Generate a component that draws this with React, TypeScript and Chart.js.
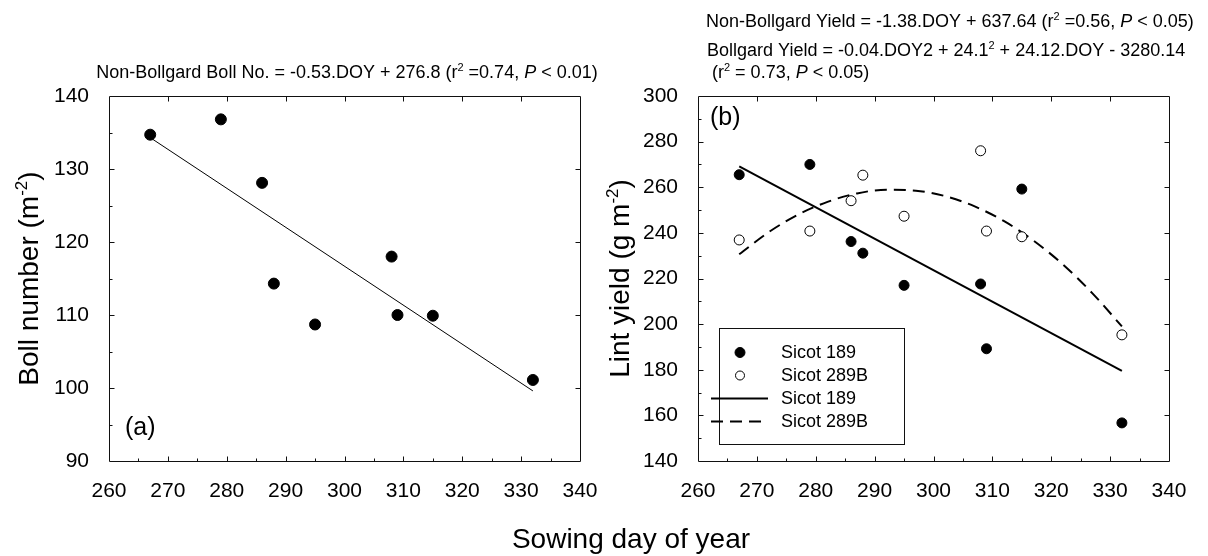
import React, { useEffect, useRef } from "react";
import { Chart, registerables } from "chart.js";

Chart.register(...registerables);

const FONT = '"Liberation Sans", Arial, Helvetica, sans-serif';
const W = 1208;
const H = 556;

// Sowing dates (day of year) and measured responses
const sowingDoy = [267, 279, 286, 288, 295, 308, 309, 315, 332];
const bollNumber189 = [134.7, 136.8, 128.1, 114.3, 108.7, 118.0, 110.0, 109.9, 101.1];
const lintYield189 = [265.5, 270.0, 236.2, 231.1, 217.0, 217.6, 189.2, 259.2, 156.7];
const lintYield289B = [236.9, 240.8, 254.1, 265.3, 247.3, 276.0, 240.8, 238.3, 195.3];

// Fitted regression lines
const bollFitDoy = [267, 332];
const bollFit189 = [134.3, 99.6];
const yieldFitDoy189 = [267, 332];
const yieldFit189 = [269.2, 179.5];
const yieldFitDoy289B = [267, 272, 277, 282, 287, 292, 297, 302, 307, 312, 317, 322, 327, 332];
const yieldFit289B = [230.6, 240.3, 248.0, 253.6, 257.3, 258.9, 258.5, 256.1, 251.6, 245.1, 236.6, 226.1, 213.5, 199.0];

// Axis ticks
const doyTicks = [260, 270, 280, 290, 300, 310, 320, 330, 340];
const bollTicks = [90, 100, 110, 120, 130, 140];
const yieldTicks = [140, 160, 180, 200, 220, 240, 260, 280, 300];

const seriesNames = ["Sicot 189", "Sicot 289B"];

type Seg = { t: string; sup?: boolean; it?: boolean };

const segFont = (size: number, s: Seg) =>
  `${s.it ? "italic " : ""}${s.sup ? Math.round(size * 0.62) : size}px ${FONT}`;

function richWidth(ctx: CanvasRenderingContext2D, segs: Seg[], size: number) {
  let w = 0;
  for (const s of segs) {
    ctx.font = segFont(size, s);
    w += ctx.measureText(s.t).width;
  }
  return w;
}

function drawRich(
  ctx: CanvasRenderingContext2D,
  segs: Seg[],
  size: number,
  x: number,
  y: number,
  align: "left" | "center"
) {
  ctx.save();
  ctx.fillStyle = "#000";
  ctx.textAlign = "left";
  ctx.textBaseline = "alphabetic";
  let cx = align === "center" ? x - richWidth(ctx, segs, size) / 2 : x;
  for (const s of segs) {
    ctx.font = segFont(size, s);
    ctx.fillText(s.t, cx, s.sup ? y - size * 0.4 : y);
    cx += ctx.measureText(s.t).width;
  }
  ctx.restore();
}

function drawRotated(ctx: CanvasRenderingContext2D, segs: Seg[], size: number, x: number, y: number) {
  ctx.save();
  ctx.translate(x, y);
  ctx.rotate(-Math.PI / 2);
  drawRich(ctx, segs, size, 0, 0, "center");
  ctx.restore();
}

// Box with inward ticks on all four sides
const framePlugin = {
  id: "frame",
  beforeDatasetsDraw(chart: any, _a: any, opts: any) {
    const { ctx, chartArea: a, scales } = chart;
    const xs = scales.x;
    const ys = scales.y;
    const px = (v: number) => Math.round(xs.getPixelForValue(v)) + 0.5;
    const py = (v: number) => Math.round(ys.getPixelForValue(v)) + 0.5;
    const L = px(xs.min);
    const R = px(xs.max);
    const T = py(ys.max);
    const B = py(ys.min);
    ctx.save();
    ctx.strokeStyle = "#111";
    ctx.lineWidth = 1;
    ctx.beginPath();
    ctx.rect(L, T, R - L, B - T);
    for (let v = xs.min + opts.xMinor; v < xs.max; v += opts.xMinor) {
      const major = (v - xs.min) % opts.xMajor === 0;
      const p = px(v);
      ctx.moveTo(p, B);
      ctx.lineTo(p, B - (major ? 5 : 3));
      if (major) {
        ctx.moveTo(p, T);
        ctx.lineTo(p, T + 5);
      }
    }
    for (let v = ys.min + opts.yMinor; v < ys.max; v += opts.yMinor) {
      const major = (v - ys.min) % opts.yMajor === 0;
      const p = py(v);
      ctx.moveTo(L, p);
      ctx.lineTo(L + (major ? 5 : 3), p);
      if (major) {
        ctx.moveTo(R, p);
        ctx.lineTo(R - 5, p);
      }
    }
    ctx.stroke();
    ctx.restore();
  },
};

// Free text: equations, axis titles, panel letters
const textPlugin = {
  id: "notes",
  afterDraw(chart: any, _a: any, opts: any) {
    const ctx = chart.ctx as CanvasRenderingContext2D;
    const a = chart.chartArea;
    for (const line of opts.lines || []) {
      drawRich(ctx, line.segs, line.size, line.x, line.y, line.align);
    }
    if (opts.yTitle) {
      drawRotated(ctx, opts.yTitle.segs, opts.yTitle.size, opts.yTitle.x, (a.top + a.bottom) / 2);
    }
    if (opts.panel) {
      ctx.save();
      ctx.font = `${opts.panel.size}px ${FONT}`;
      ctx.fillStyle = "#000";
      ctx.textBaseline = "middle";
      ctx.textAlign = "left";
      ctx.fillText(opts.panel.text, a.left + opts.panel.dx, opts.panel.fromBottom ? a.bottom - opts.panel.dy : a.top + opts.panel.dy);
      ctx.restore();
    }
  },
};

// Boxed legend drawn inside the plot area from the dataset styles
const boxLegendPlugin = {
  id: "boxLegend",
  afterDatasetsDraw(chart: any, _a: any, opts: any) {
    if (!opts || !opts.show) return;
    const ctx = chart.ctx as CanvasRenderingContext2D;
    const a = chart.chartArea;
    const left = Math.round(a.left + 21) + 0.5;
    const right = Math.round(a.left + 206) + 0.5;
    const top = Math.round(a.top + 232) + 0.5;
    const bottom = Math.round(a.bottom - 17) + 0.5;
    ctx.save();
    ctx.fillStyle = "#fff";
    ctx.fillRect(left, top, right - left, bottom - top);
    ctx.strokeStyle = "#111";
    ctx.lineWidth = 1;
    ctx.strokeRect(left, top, right - left, bottom - top);
    chart.data.datasets.forEach((ds: any, i: number) => {
      const y = top + 24 + i * 23;
      if (ds.showLine) {
        ctx.beginPath();
        ctx.strokeStyle = ds.borderColor;
        ctx.lineWidth = ds.borderWidth;
        ctx.setLineDash(ds.borderDash || []);
        ctx.moveTo(a.left + 13, y);
        ctx.lineTo(a.left + 70, y);
        ctx.stroke();
        ctx.setLineDash([]);
      } else {
        ctx.beginPath();
        ctx.arc(a.left + 42, y, ds.pointRadius - (ds.backgroundColor === "#fff" ? 0.5 : 0), 0, Math.PI * 2);
        ctx.fillStyle = ds.backgroundColor;
        ctx.fill();
        ctx.lineWidth = 1;
        ctx.strokeStyle = "#000";
        ctx.stroke();
      }
      ctx.fillStyle = "#000";
      ctx.font = `18px ${FONT}`;
      ctx.textBaseline = "middle";
      ctx.textAlign = "left";
      ctx.fillText(ds.label, a.left + 83, y + 1);
    });
    ctx.restore();
  },
};

const pts = (xs: number[], ys: number[]) => xs.map((x, i) => ({ x, y: ys[i] }));

function axes(yMin: number, yMax: number, yTicks: number[], yWidth: number) {
  const tickFont = { family: FONT, size: 21 };
  return {
    x: {
      type: "linear" as const,
      min: 260,
      max: 340,
      afterBuildTicks: (s: any) => {
        s.ticks = doyTicks.map((v) => ({ value: v }));
      },
      afterFit: (s: any) => {
        s.height = 95;
      },
      grid: { display: false },
      border: { display: false },
      ticks: { font: tickFont, color: "#000", padding: 10, maxRotation: 0, autoSkip: false },
    },
    y: {
      type: "linear" as const,
      min: yMin,
      max: yMax,
      afterBuildTicks: (s: any) => {
        s.ticks = yTicks.map((v) => ({ value: v }));
      },
      afterFit: (s: any) => {
        s.width = yWidth;
      },
      grid: { display: false },
      border: { display: false },
      ticks: { font: tickFont, color: "#000", padding: 12, autoSkip: false },
    },
  };
}

export default function App() {
  const leftRef = useRef<HTMLCanvasElement>(null);
  const rightRef = useRef<HTMLCanvasElement>(null);

  useEffect(() => {
    const common = {
      animation: false as const,
      responsive: false,
      events: [] as any[],
    };

    const left = new Chart(leftRef.current!, {
      type: "scatter",
      data: {
        datasets: [
          {
            label: seriesNames[0],
            data: pts(sowingDoy, bollNumber189),
            pointRadius: 5.5,
            pointBackgroundColor: "#000",
            pointBorderColor: "#000",
            backgroundColor: "#000",
            showLine: false,
          },
          {
            label: seriesNames[0],
            data: pts(bollFitDoy, bollFit189),
            showLine: true,
            borderColor: "#000",
            borderWidth: 1,
            pointRadius: 0,
          },
        ],
      },
      options: {
        ...common,
        layout: { padding: { left: 0, top: 96, right: W - 580, bottom: 0 } },
        scales: axes(90, 140, bollTicks, 109),
        plugins: {
          legend: { display: false },
          tooltip: { enabled: false },
          frame: { xMinor: 5, xMajor: 10, yMinor: 5, yMajor: 10 },
          notes: {
            lines: [
              {
                segs: [
                  { t: "Non-Bollgard Boll No. = -0.53.DOY + 276.8 (r" },
                  { t: "2", sup: true },
                  { t: " =0.74, " },
                  { t: "P", it: true },
                  { t: " < 0.01)" },
                ],
                size: 18,
                x: 347,
                y: 78,
                align: "center",
              },
              {
                segs: [{ t: "Sowing day of year" }],
                size: 28,
                x: 631,
                y: 548,
                align: "center",
              },
            ],
            yTitle: {
              segs: [{ t: "Boll number (m" }, { t: "-2", sup: true }, { t: ")" }],
              size: 28,
              x: 38,
            },
            panel: { text: "(a)", size: 25, dx: 16, dy: 33, fromBottom: true },
          },
        } as any,
      },
      plugins: [framePlugin, textPlugin],
    });

    const right = new Chart(rightRef.current!, {
      type: "scatter",
      data: {
        datasets: [
          {
            label: seriesNames[0],
            data: pts(sowingDoy, lintYield189),
            pointRadius: 5,
            pointBackgroundColor: "#000",
            pointBorderColor: "#000",
            backgroundColor: "#000",
            borderColor: "#000",
            showLine: false,
          },
          {
            label: seriesNames[1],
            data: pts(sowingDoy, lintYield289B),
            pointRadius: 5,
            pointBackgroundColor: "#fff",
            pointBorderColor: "#000",
            pointBorderWidth: 1,
            backgroundColor: "#fff",
            borderColor: "#000",
            showLine: false,
          },
          {
            label: seriesNames[0],
            data: pts(yieldFitDoy189, yieldFit189),
            showLine: true,
            borderColor: "#000",
            borderWidth: 2,
            pointRadius: 0,
          },
          {
            label: seriesNames[1],
            data: pts(yieldFitDoy289B, yieldFit289B),
            showLine: true,
            borderColor: "#000",
            borderWidth: 2,
            borderDash: [12, 7],
            tension: 0.4,
            cubicInterpolationMode: "monotone",
            pointRadius: 0,
          },
        ],
      },
      options: {
        ...common,
        layout: { padding: { left: 0, top: 96, right: W - 1169, bottom: 0 } },
        scales: axes(140, 300, yieldTicks, 698),
        plugins: {
          legend: { display: false },
          tooltip: { enabled: false },
          frame: { xMinor: 5, xMajor: 10, yMinor: 10, yMajor: 20 },
          boxLegend: { show: true },
          notes: {
            lines: [
              {
                segs: [
                  { t: "Non-Bollgard Yield = -1.38.DOY + 637.64 (r" },
                  { t: "2", sup: true },
                  { t: " =0.56, " },
                  { t: "P", it: true },
                  { t: " < 0.05)" },
                ],
                size: 18,
                x: 706,
                y: 27,
                align: "left",
              },
              {
                segs: [
                  { t: "Bollgard Yield = -0.04.DOY2 + 24.1" },
                  { t: "2", sup: true },
                  { t: " + 24.12.DOY - 3280.14" },
                ],
                size: 18,
                x: 707,
                y: 56,
                align: "left",
              },
              {
                segs: [
                  { t: " (r" },
                  { t: "2", sup: true },
                  { t: " = 0.73, " },
                  { t: "P", it: true },
                  { t: " < 0.05)" },
                ],
                size: 18,
                x: 707,
                y: 78,
                align: "left",
              },
            ],
            yTitle: {
              segs: [{ t: "Lint yield (g m" }, { t: "-2", sup: true }, { t: ")" }],
              size: 28,
              x: 629,
            },
            panel: { text: "(b)", size: 25, dx: 12, dy: 22, fromBottom: false },
          },
        } as any,
      },
      plugins: [framePlugin, textPlugin, boxLegendPlugin],
    });

    return () => {
      left.destroy();
      right.destroy();
    };
  }, []);

  const canvasStyle: React.CSSProperties = { position: "absolute", left: 0, top: 0, width: W, height: H };

  return (
    <div style={{ position: "absolute", left: 0, top: 0, width: W, height: H, background: "#fff" }}>
      <canvas ref={leftRef} width={W} height={H} style={canvasStyle} />
      <canvas ref={rightRef} width={W} height={H} style={canvasStyle} />
    </div>
  );
}
